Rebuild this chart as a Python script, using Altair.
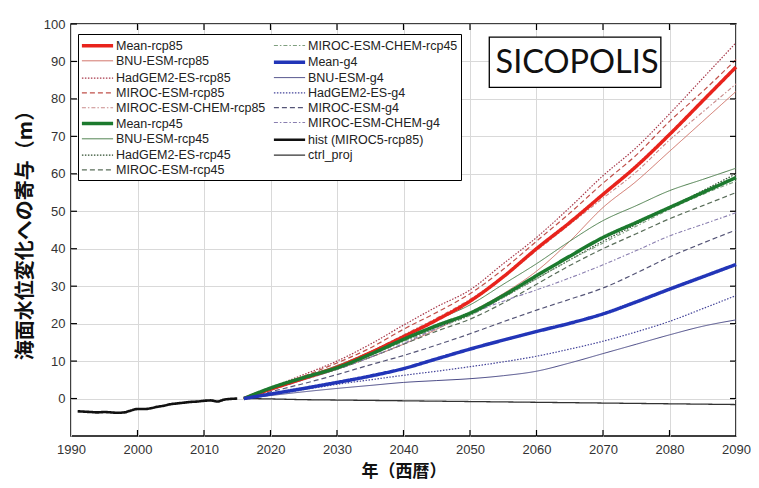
import altair as alt
import pandas as pd

# ---------------- data ----------------
proj_years = [2016, 2020, 2025, 2030, 2035, 2040, 2045, 2050, 2055, 2060, 2065, 2070, 2075, 2080, 2085, 2090]

mean_rcp85 = [0, 2.5, 5.4, 8.4, 12.2, 16.5, 21, 26, 32.5, 40, 47, 54.5, 62, 70.5, 79.5, 88.5]
had_rcp85 = [0, 2.9, 6.4, 10, 14.5, 19.6, 24.5, 29, 36, 43, 51, 59.5, 67, 76, 85.5, 95]
miroc_rcp85 = [0, 2.8, 6, 9.5, 13.5, 18.5, 23, 28, 34.5, 42, 49.5, 57.5, 65, 74, 82, 90.5]
chem_rcp85 = [0, 2.6, 5.5, 8.5, 12.5, 17, 21.5, 26.5, 32.5, 39.5, 46.5, 53.5, 60.5, 69, 76.5, 84]
bnu_rcp85 = [0, 2.4, 5, 7.8, 11, 14.5, 18.5, 23, 28, 34, 42, 51, 58, 66, 74, 82]

mean_rcp45 = [0, 2.8, 5.6, 8.2, 11.8, 15.8, 19.5, 22.8, 27.5, 32.8, 38, 43, 47, 51, 55, 59]
bnu_rcp45 = [0, 2.8, 5.8, 8.8, 12.5, 16.8, 21, 25, 30.5, 36, 42, 47.5, 51.5, 55.5, 58.5, 61.5]
had_rcp45 = [0, 2.9, 5.8, 8.5, 12, 15.5, 19, 22.3, 27, 32, 37, 42, 46.5, 51, 55.5, 60]
miroc_rcp45 = [0, 2.7, 5.3, 7.8, 11, 14.5, 18, 21.2, 25.5, 30.5, 35.5, 40, 44, 48, 51.5, 55]
chem_rcp45 = [0, 2.8, 5.5, 8.2, 11.5, 15.2, 18.8, 22.2, 27, 32, 37, 41.5, 46, 50.5, 54.5, 58]

mean_g4 = [0, 1.2, 2.7, 4.3, 6, 8, 10.6, 13.2, 15.6, 17.9, 20.1, 22.6, 25.8, 29.2, 32.5, 35.8]
bnu_g4 = [0, 0.8, 1.8, 2.7, 3.5, 4.3, 4.8, 5.3, 6.1, 7.3, 9.5, 12, 14.5, 17, 19.3, 21]
had_g4 = [0, 1, 2.4, 3.8, 5, 6.2, 7.3, 8.5, 9.8, 11.3, 13.2, 15.3, 17.8, 20.6, 24, 27.5]
miroc_g4 = [0, 1.8, 4, 6.4, 9, 11.5, 14.3, 17.3, 20.5, 23.6, 26.5, 29.5, 33.5, 37.8, 41.5, 45]
chem_g4 = [0, 2.2, 5, 7.8, 11, 14.7, 18.8, 22.6, 26, 29, 32.2, 35.7, 39.5, 43.4, 46.5, 49.6]

ctrl_proj = [0, -0.1, -0.3, -0.4, -0.5, -0.6, -0.7, -0.8, -0.9, -1.0, -1.1, -1.2, -1.3, -1.4, -1.5, -1.6]

hist_years = list(range(1991, 2016))
hist_vals = [-3.4, -3.5, -3.6, -3.7, -3.6, -3.7, -3.8, -3.7, -3.2, -2.8, -2.8, -2.6, -2.2,
             -1.9, -1.5, -1.3, -1.1, -0.9, -0.8, -0.6, -0.5, -0.8, -0.3, -0.1, 0.0]

col1 = ["Mean-rcp85", "BNU-ESM-rcp85", "HadGEM2-ES-rcp85", "MIROC-ESM-rcp85",
        "MIROC-ESM-CHEM-rcp85", "Mean-rcp45", "BNU-ESM-rcp45", "HadGEM2-ES-rcp45",
        "MIROC-ESM-rcp45"]
col2 = ["MIROC-ESM-CHEM-rcp45", "Mean-g4", "BNU-ESM-g4", "HadGEM2-ES-g4", "MIROC-ESM-g4",
        "MIROC-ESM-CHEM-g4", "hist (MIROC5-rcp85)", "ctrl_proj"]

x_ticks = list(range(1990, 2091, 10))
y_ticks = list(range(0, 101, 10))

# ---------------- styles ----------------
SOLID = [1, 0]
DOT = [1.5, 1.5]
DASH = [5, 3]
DASHDOT = [4, 2, 1.5, 2]
style = {
    "Mean-rcp85": ("#e8231c", SOLID, 3.5),
    "BNU-ESM-rcp85": ("#cf6f64", SOLID, 1.0),
    "HadGEM2-ES-rcp85": ("#a8394a", DOT, 1.2),
    "MIROC-ESM-rcp85": ("#c0504a", DASH, 1.2),
    "MIROC-ESM-CHEM-rcp85": ("#c98a8a", DASHDOT, 1.1),
    "Mean-rcp45": ("#1c7a2e", SOLID, 3.5),
    "BNU-ESM-rcp45": ("#4a7d4a", SOLID, 1.0),
    "HadGEM2-ES-rcp45": ("#2e4d2e", DOT, 1.2),
    "MIROC-ESM-rcp45": ("#5a6e5a", DASH, 1.2),
    "MIROC-ESM-CHEM-rcp45": ("#7f9f7f", DASHDOT, 1.1),
    "Mean-g4": ("#2235b8", SOLID, 3.5),
    "BNU-ESM-g4": ("#4a4a86", SOLID, 1.0),
    "HadGEM2-ES-g4": ("#45459a", DOT, 1.2),
    "MIROC-ESM-g4": ("#555577", DASH, 1.2),
    "MIROC-ESM-CHEM-g4": ("#8a7fb0", DASHDOT, 1.1),
    "hist (MIROC5-rcp85)": ("#111111", SOLID, 2.6),
    "ctrl_proj": ("#333333", SOLID, 1.3),
}

# Vega fills a multi-column legend column by column
legend_order = col1 + col2

series = {
    "Mean-rcp85": mean_rcp85, "BNU-ESM-rcp85": bnu_rcp85, "HadGEM2-ES-rcp85": had_rcp85,
    "MIROC-ESM-rcp85": miroc_rcp85, "MIROC-ESM-CHEM-rcp85": chem_rcp85,
    "Mean-rcp45": mean_rcp45, "BNU-ESM-rcp45": bnu_rcp45, "HadGEM2-ES-rcp45": had_rcp45,
    "MIROC-ESM-rcp45": miroc_rcp45, "MIROC-ESM-CHEM-rcp45": chem_rcp45,
    "Mean-g4": mean_g4, "BNU-ESM-g4": bnu_g4, "HadGEM2-ES-g4": had_g4,
    "MIROC-ESM-g4": miroc_g4, "MIROC-ESM-CHEM-g4": chem_g4,
    "ctrl_proj": ctrl_proj,
}

rows = []
for name, vals in series.items():
    grp = "front" if name.startswith("Mean") else "back"
    for yr, v in zip(proj_years, vals):
        rows.append({"name": name, "year": yr, "value": v, "grp": grp})
for yr, v in zip(hist_years, hist_vals):
    rows.append({"name": "hist (MIROC5-rcp85)", "year": yr, "value": v, "grp": "front"})
df = pd.DataFrame(rows)

X_DOM = [1990, 2090]
Y_DOM = [-10, 100]
LABEL_FONT = "Liberation Sans"
TITLE_FONT = "Noto Sans CJK JP"

# long horizontal stroke drawn with a small nominal symbol size so rows stay compact
legend = alt.Legend(
    title=None, orient="none", legendX=7, legendY=10, columns=2, columnPadding=0,
    labelFont=LABEL_FONT, labelFontSize=12.5, labelColor="#222",
    symbolType="M-2.4,0H2.4", symbolSize=169, symbolOffset=8, labelOffset=10,
    padding=3, strokeColor="#000", fillColor="#fff", rowPadding=0.8, labelLimit=300,
)

x_enc = alt.X("year:Q", scale=alt.Scale(domain=X_DOM, nice=False, zero=False),
              axis=alt.Axis(values=x_ticks, format="d", labelFont=LABEL_FONT, labelFontSize=13,
                            labelColor="#333", tickSize=0, domain=False, grid=True,
                            gridColor="#d9d9d9", gridWidth=1, title="年（西暦）",
                            titleFont=TITLE_FONT, titleFontSize=17, titleFontWeight="bold",
                            titleColor="#111", labelPadding=7, titlePadding=7,
                            labelFlush=False))
y_enc = alt.Y("value:Q", scale=alt.Scale(domain=Y_DOM, nice=False, zero=False),
              axis=alt.Axis(values=y_ticks, labelFont=LABEL_FONT, labelFontSize=13,
                            labelColor="#333", tickSize=0, domain=False, grid=True,
                            gridColor="#d9d9d9", gridWidth=1, title="海面水位変化への寄与（m）",
                            titleFont=TITLE_FONT, titleFontSize=20, titleFontWeight="bold",
                            titleColor="#111", labelPadding=6, titlePadding=8,
                            labelFlush=False))

color_enc = alt.Color("name:N", scale=alt.Scale(domain=legend_order,
                                                range=[style[n][0] for n in legend_order]),
                      legend=legend)
dash_enc = alt.StrokeDash("name:N", scale=alt.Scale(domain=legend_order,
                                                    range=[style[n][1] for n in legend_order]),
                          legend=legend)
width_enc = alt.StrokeWidth("name:N", scale=alt.Scale(type="ordinal", domain=legend_order,
                                                      range=[style[n][2] for n in legend_order]),
                            legend=legend)

base = alt.Chart(df)
back = base.transform_filter(alt.datum.grp == "back").mark_line(interpolate="monotone").encode(
    x=x_enc, y=y_enc, color=color_enc, strokeDash=dash_enc, strokeWidth=width_enc, detail="name:N")
front = base.transform_filter(alt.datum.grp == "front").mark_line(interpolate="monotone").encode(
    x=x_enc, y=y_enc, color=color_enc, strokeDash=dash_enc, strokeWidth=width_enc, detail="name:N")

# inward tick marks (MATLAB style)
tick_rows = []
for t in x_ticks[1:-1]:
    tick_rows.append({"x1": t, "x2": t, "y1": -10, "y2": -8.4})
    tick_rows.append({"x1": t, "x2": t, "y1": 100, "y2": 98.4})
for t in y_ticks:
    tick_rows.append({"x1": 1990, "x2": 1990.9, "y1": t, "y2": t})
    tick_rows.append({"x1": 2089.1, "x2": 2090, "y1": t, "y2": t})
ticks = alt.Chart(pd.DataFrame(tick_rows)).mark_rule(color="#000", strokeWidth=1.2).encode(
    x=alt.X("x1:Q", scale=alt.Scale(domain=X_DOM, nice=False, zero=False)), x2="x2:Q",
    y=alt.Y("y1:Q", scale=alt.Scale(domain=Y_DOM, nice=False, zero=False)), y2="y2:Q")

# model label box
label_box = pd.DataFrame([{"x1": 2052.9, "x2": 2078.7, "y1": 83.1, "y2": 96.5,
                           "xc": 2066.1, "yc": 89.6, "txt": "SICOPOLIS"}])
box = alt.Chart(label_box).mark_rect(fill="#fff", stroke="#000", strokeWidth=1.3).encode(
    x=alt.X("x1:Q", scale=alt.Scale(domain=X_DOM, nice=False, zero=False)), x2="x2:Q",
    y=alt.Y("y1:Q", scale=alt.Scale(domain=Y_DOM, nice=False, zero=False)), y2="y2:Q")
box_text = alt.Chart(label_box).mark_text(font="Lato", fontSize=32.5, color="#111",
                                          baseline="middle", align="center").encode(
    x=alt.X("xc:Q", scale=alt.Scale(domain=X_DOM, nice=False, zero=False)),
    y=alt.Y("yc:Q", scale=alt.Scale(domain=Y_DOM, nice=False, zero=False)),
    text="txt:N")

chart = alt.layer(back, front, ticks, box, box_text).properties(
    width=665, height=412,
    autosize=alt.AutoSizeParams(type="none"),
    padding={"left": 63, "top": 16, "right": 15, "bottom": 44},
    background="#ffffff",
).configure_view(stroke="#000", strokeWidth=1.5)

chart.save("out.html", embed_options={"renderer": "svg", "actions": False})
